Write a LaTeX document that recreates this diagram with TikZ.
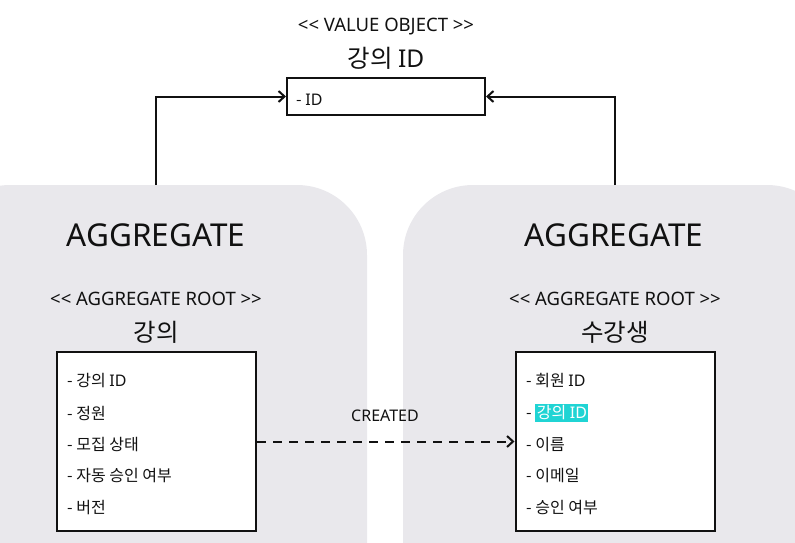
\documentclass[tikz,border=0pt]{standalone}
\usepackage{fontspec}
\setmainfont{Noto Sans CJK KR}
\newfontfamily\lat{Noto Sans}
\usetikzlibrary{arrows.meta}
\definecolor{regiongray}{RGB}{233,232,236}
\definecolor{hlcyan}{RGB}{32,212,212}
\definecolor{ink}{RGB}{17,17,17}
\newcommand\lsg{<\kern0pt<}
\newcommand\rsg{>\kern0pt>}
\newcommand\IDtxt{{\lat ID}}
\setlength{\fboxsep}{1.5pt}
\tikzset{
  region/.style={fill=regiongray, rounded corners=70pt},
  classbox/.style={draw=ink, line width=2pt, fill=white, minimum width=199pt, minimum height=179pt, inner sep=0pt},
  vobox/.style={draw=ink, line width=2pt, fill=white, minimum width=198pt, minimum height=37pt, inner sep=0pt},
  stereo/.style={font=\lat\fontsize{18.5}{20}\selectfont, text=ink, inner sep=0pt},
  cname/.style={font=\fontsize{24.5}{27}\selectfont, text=ink, inner sep=0pt},
  agg/.style={font=\lat\fontsize{31.5}{33}\selectfont, text=ink, inner sep=0pt},
  item/.style={font=\fontsize{16}{18}\selectfont, text=ink, anchor=west, inner sep=0pt},
  lbl/.style={font=\lat\fontsize{16}{18}\selectfont, text=ink, inner sep=0pt},
  arr/.style={draw=ink, line width=2pt, -{Straight Barb[length=6pt,width=11pt,line width=2pt]}},
  darr/.style={arr, dash pattern=on 9pt off 7pt},
}
\begin{document}
\begin{tikzpicture}[x=1pt,y=-1pt]
\useasboundingbox (0,0) rectangle (795,543);
\clip (0,0) rectangle (795,543);
% aggregate regions
\fill[region] (-60,620) rectangle (367,185);
\fill[region] (403,620) rectangle (837,185);
% value object
\node[stereo] (vost) at (386,27) {\lsg{} VALUE OBJECT \rsg};
\node[cname] (voname) at (386,58) {강의 \IDtxt};
\node[vobox] (vo) at (386,96.5) {};
\node[item] (void) at (296,100) {- \IDtxt};
% aggregate titles
\node[agg] (aggl) at (156,235) {AGGREGATE};
\node[agg] (aggr) at (614,235) {AGGREGATE};
\node[stereo] (rootl) at (156,299) {\lsg{} AGGREGATE ROOT \rsg};
\node[stereo] (rootr) at (615,299) {\lsg{} AGGREGATE ROOT \rsg};
\node[cname] (namel) at (156,332) {강의};
\node[cname] (namer) at (615,332) {수강생};
% class boxes
\node[classbox] (lb) at (156.5,441.5) {};
\node[classbox] (rb) at (615,441.5) {};
% left items
\node[item] (l1) at (67,381) {- 강의 \IDtxt};
\node[item] (l2) at (67,413) {- 정원};
\node[item] (l3) at (67,445) {- 모집 상태};
\node[item] (l4) at (67,476) {- 자동 승인 여부};
\node[item] (l5) at (67,508) {- 버전};
% right items
\node[item] (r1) at (526,381) {- 회원 \IDtxt};
\node[item] (r2) at (526,413) {- \colorbox{hlcyan}{\color{white}강의 \IDtxt}};
\node[item] (r3) at (526,445) {- 이름};
\node[item] (r4) at (526,476) {- 이메일};
\node[item] (r5) at (526,508) {- 승인 여부};
% connectors
\coordinate (la) at (156,185);
\coordinate (ra) at (615,185);
\draw[arr] (la) |- (vo.west);
\draw[arr] (ra) |- (vo.east);
\draw[darr] (lb.east) -- (rb.west);
\node[lbl] (created) at (385,416) {CREATED};
\end{tikzpicture}
\end{document}
